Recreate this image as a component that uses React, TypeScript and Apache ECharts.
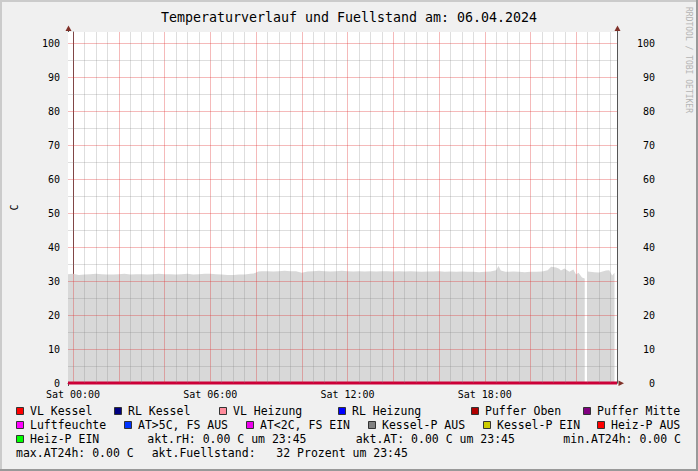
import React, { useEffect, useRef } from "react";
import * as echarts from "echarts";

// ---------- texts ----------
const TITLE = "Temperaturverlauf und Fuellstand am: 06.04.2024";
const Y_UNIT = "C";
const WATERMARK = "RRDTOOL / TOBI OETIKER";

// ---------- axes ----------
const xMinHours = -0.22;
const xMaxHours = 23.78;
const yMinValue = 0;
const yMaxValue = 103.24;
const yStep = 5;
const timeTicks = [0, 6, 12, 18];
const timeTickLabels = ["Sat 00:00", "Sat 06:00", "Sat 12:00", "Sat 18:00"];

// ---------- data: Fuellstand (hours since 00:00, value) ----------
const fuellTimes = [
  -0.22, 0, 0.25, 0.5, 0.75, 1, 1.25, 1.5, 1.75, 2,
  2.25, 2.5, 2.75, 3, 3.25, 3.5, 3.75, 4, 4.25, 4.5,
  4.75, 5, 5.25, 5.5, 5.75, 6, 6.25, 6.5, 6.75, 7,
  7.25, 7.5, 7.75, 7.9, 8.1, 8.25, 8.5, 8.75, 9, 9.25,
  9.5, 9.75, 10, 10.25, 10.5, 10.75, 11, 11.25, 11.5, 11.75,
  12, 12.25, 12.5, 12.75, 13, 13.25, 13.5, 13.75, 14, 14.25,
  14.5, 14.75, 15, 15.25, 15.5, 15.75, 16, 16.25, 16.5, 16.75,
  17, 17.25, 17.5, 17.75, 18, 18.25, 18.5, 18.6, 18.7, 18.9,
  19.25, 19.5, 19.75, 20, 20.25, 20.5, 20.75, 20.9, 21.12, 21.25,
  21.33, 21.48, 21.7, 21.87, 21.99, 22.1, 22.25, 22.37, 22.43, 22.5,
  22.79, 23, 23.3, 23.44, 23.57, 23.67,
];
const fuellValues: (number | null)[] = [
  32.0, 32.1, 31.8, 31.9, 32.0, 32.1, 32.0, 31.9, 31.9, 32.0,
  32.1, 31.9, 32.0, 32.0, 31.9, 32.0, 32.1, 32.0, 32.0, 31.9,
  32.0, 32.1, 31.9, 32.0, 32.1, 32.1, 32.0, 31.9, 31.8, 31.8,
  31.9, 31.9, 32.1, 32.2, 32.8, 32.9, 32.9, 32.8, 32.9, 33.0,
  32.9, 32.9, 32.4, 32.8, 32.9, 33.0, 32.9, 32.8, 32.9, 33.0,
  32.9, 32.8, 32.9, 32.8, 32.9, 32.8, 32.9, 32.9, 32.8, 32.9,
  32.8, 32.9, 32.8, 32.7, 32.8, 32.8, 32.9, 32.7, 32.8, 32.7,
  32.8, 32.7, 32.7, 32.6, 32.7, 32.8, 33.2, 34.4, 33.1, 32.7,
  32.8, 32.7, 32.6, 32.7, 32.7, 32.8, 33.2, 34.2, 34.0, 33.6,
  33.1, 33.7, 32.7, 33.4, 31.9, 32.4, 31.0, 30.7, null, 32.8,
  32.6, 32.5, 33.1, 33.2, 31.6, 32.4,
];

// all temperature / pump lines sit at 0 over the whole window
const zeroLineTimes = [xMinHours, xMaxHours];
const zeroLineValues = [0, 0];

// ---------- legend ----------
const legendNames = [
  "VL Kessel", "RL Kessel", "VL Heizung", "RL Heizung", "Puffer Oben", "Puffer Mitte",
  "Luftfeuchte", "AT>5C, FS AUS", "AT<2C, FS EIN", "Kessel-P AUS", "Kessel-P EIN", "Heiz-P AUS",
  "Heiz-P EIN",
];
const legendColors = [
  "#ff0000", "#000080", "#ff8c9c", "#0000ff", "#b00000", "#800080",
  "#ff00ff", "#0033ff", "#ee00ee", "#808080", "#cccc00", "#ff0000",
  "#00ff00",
];
const infoTexts = [
  "akt.rH: 0.00 C um 23:45",
  "akt.AT: 0.00 C um 23:45",
  "min.AT24h: 0.00 C",
  "max.AT24h: 0.00 C",
  "akt.Fuellstand:\u00a0\u00a0\u00a032 Prozent um 23:45",
];

// ---------- layout (positions only) ----------
const W = 698;
const H = 471;
const GRID = { left: 68, right: 617, top: 32, bottom: 383 };
const ROW_Y = [411, 425, 439, 453];
const legendTextX = [30, 128, 233, 352, 485, 597, 30, 138, 260, 382, 497, 611, 30];
const legendRowIdx = [0, 0, 0, 0, 0, 0, 1, 1, 1, 1, 1, 1, 2];
const infoX = [147.3, 355.7, 563.3, 16, 151.7];
const infoRow = [2, 2, 2, 3, 3];

const MONO = '"DejaVu Sans Mono", monospace';
const MINOR_COLOR = "rgba(128,128,128,0.26)";
const MAJOR_COLOR = "rgba(225,40,40,0.32)";
const ARROW_COLOR = "#803129";
const AXIS_COLOR = "#555555";

export default function App() {
  const ref = useRef<HTMLDivElement>(null);

  useEffect(() => {
    if (!ref.current) return;
    const chart = echarts.init(ref.current, undefined, { renderer: "svg" });

    const areaData = fuellTimes.map((t, i) => [t, fuellValues[i] === null ? "-" : fuellValues[i]]);
    const zeroData = zeroLineTimes.map((t, i) => [t, zeroLineValues[i]]);

    // grid lines (drawn on top of the area, like rrdtool)
    const gridLines: any[] = [];
    for (let h = 0; h <= xMaxHours; h += 0.5) {
      const major = Math.abs(h % 2) < 1e-9;
      gridLines.push({ xAxis: h, lineStyle: { color: major ? MAJOR_COLOR : MINOR_COLOR, width: 1, type: "solid" } });
    }
    for (let v = yStep; v <= 100; v += yStep) {
      const major = Math.abs(v % 10) < 1e-9;
      gridLines.push({ yAxis: v, lineStyle: { color: major ? MAJOR_COLOR : MINOR_COLOR, width: 1, type: "solid" } });
    }

    const graphics: any[] = [];
    // 3D frame
    graphics.push({ type: "rect", shape: { x: 0, y: 0, width: W, height: 2 }, style: { fill: "#cbcbcb" }, silent: true });
    graphics.push({ type: "rect", shape: { x: 0, y: 0, width: 2, height: H }, style: { fill: "#cbcbcb" }, silent: true });
    graphics.push({ type: "rect", shape: { x: 0, y: H - 2, width: W, height: 2 }, style: { fill: "#999999" }, silent: true });
    graphics.push({ type: "rect", shape: { x: W - 2, y: 0, width: 2, height: H }, style: { fill: "#999999" }, silent: true });
    // title
    graphics.push({
      type: "text", x: W / 2, y: 17,
      style: { text: TITLE, fill: "#000", fontFamily: MONO, fontSize: 13.3, align: "center", verticalAlign: "middle" },
    });
    // unit
    graphics.push({
      type: "text", x: 14, y: (GRID.top + GRID.bottom) / 2, rotation: Math.PI / 2,
      style: { text: Y_UNIT, fill: "#000", fontFamily: MONO, fontSize: 10, align: "center", verticalAlign: "middle" },
    });
    // watermark
    graphics.push({
      type: "text", x: 688, y: 7, rotation: -Math.PI / 2,
      style: { text: WATERMARK, fill: "#b4b4b4", fontFamily: MONO, fontSize: 8, align: "left", verticalAlign: "middle" },
    });
    // axis extensions & arrows
    graphics.push({ type: "line", shape: { x1: GRID.left + 0.5, y1: 28, x2: GRID.left + 0.5, y2: GRID.top }, style: { stroke: AXIS_COLOR, lineWidth: 1 } });
    graphics.push({ type: "line", shape: { x1: GRID.right + 0.5, y1: 28, x2: GRID.right + 0.5, y2: GRID.top }, style: { stroke: AXIS_COLOR, lineWidth: 1 } });
    graphics.push({ type: "line", shape: { x1: GRID.left + 0.5, y1: GRID.bottom, x2: GRID.left + 0.5, y2: GRID.bottom + 3 }, style: { stroke: AXIS_COLOR, lineWidth: 1 } });
    graphics.push({ type: "polygon", shape: { points: [[GRID.left - 2.5, 31], [GRID.left + 3.5, 31], [GRID.left + 0.5, 25.5]] }, style: { fill: ARROW_COLOR } });
    graphics.push({ type: "polygon", shape: { points: [[GRID.right - 2.5, 31], [GRID.right + 3.5, 31], [GRID.right + 0.5, 25.5]] }, style: { fill: ARROW_COLOR } });
    graphics.push({ type: "polygon", shape: { points: [[618.5, 380.5], [618.5, 386], [624, 383.3]] }, style: { fill: ARROW_COLOR } });

    // legend
    legendNames.forEach((name, i) => {
      const tx = legendTextX[i];
      const ry = ROW_Y[legendRowIdx[i]];
      graphics.push({
        type: "rect", shape: { x: tx - 13.5, y: ry - 3.5, width: 7, height: 7 },
        style: { fill: legendColors[i], stroke: "#333", lineWidth: 1 },
      });
      graphics.push({
        type: "text", x: tx, y: ry,
        style: { text: name, fill: "#000", fontFamily: MONO, fontSize: 11.5, align: "left", verticalAlign: "middle" },
      });
    });
    infoTexts.forEach((t, i) => {
      graphics.push({
        type: "text", x: infoX[i], y: ROW_Y[infoRow[i]],
        style: { text: t, fill: "#000", fontFamily: MONO, fontSize: 11.5, align: "left", verticalAlign: "middle" },
      });
    });

    const yLabelFmt = (v: number) => (Math.abs(v % 10) < 1e-6 && v <= 100 ? String(v) : "");

    const option: any = {
      animation: false,
      backgroundColor: "#f0f0f0",
      grid: {
        left: GRID.left, right: W - GRID.right, top: GRID.top, bottom: H - GRID.bottom,
        show: true, backgroundColor: "#ffffff", borderWidth: 0,
      },
      xAxis: {
        type: "value", min: xMinHours, max: xMaxHours,
        axisLine: { show: true, lineStyle: { color: AXIS_COLOR } },
        axisTick: { show: false },
        splitLine: { show: false },
        axisLabel: {
          customValues: timeTicks,
          formatter: (v: number) => timeTickLabels[timeTicks.indexOf(Math.round(v))] ?? "",
          fontFamily: MONO, fontSize: 10, color: "#000", margin: 6,
        },
      },
      yAxis: [
        {
          type: "value", min: yMinValue, max: yMaxValue, interval: yStep, position: "left",
          axisLine: { show: true, lineStyle: { color: AXIS_COLOR } },
          axisTick: { show: false }, splitLine: { show: false },
          axisLabel: { formatter: yLabelFmt, fontFamily: MONO, fontSize: 10, color: "#000", margin: 8, showMaxLabel: true },
        },
        {
          type: "value", min: yMinValue, max: yMaxValue, interval: yStep, position: "right",
          axisLine: { show: true, lineStyle: { color: AXIS_COLOR } },
          axisTick: { show: false }, splitLine: { show: false },
          axisLabel: { formatter: yLabelFmt, fontFamily: MONO, fontSize: 10, color: "#000", margin: 38, align: "right" },
        },
      ],
      series: [
        {
          name: "Fuellstand", type: "line", data: areaData, z: 2,
          showSymbol: false, connectNulls: false, silent: true,
          lineStyle: { width: 0, color: "#d8d8d8" },
          areaStyle: { color: "#d8d8d8", opacity: 1 },
        },
        {
          name: "grid", type: "line", data: [], z: 3, silent: true,
          markLine: { silent: true, symbol: ["none", "none"], label: { show: false }, animation: false, data: gridLines },
        },
        {
          name: "Temperaturen", type: "line", data: zeroData, z: 4, clip: false,
          showSymbol: false, silent: true,
          lineStyle: { width: 3, color: "#cc0038" },
        },
      ],
      graphic: { elements: graphics },
    };

    chart.setOption(option);
    return () => chart.dispose();
  }, []);

  return <div ref={ref} style={{ position: "absolute", left: 0, top: 0, width: W, height: H }} />;
}
